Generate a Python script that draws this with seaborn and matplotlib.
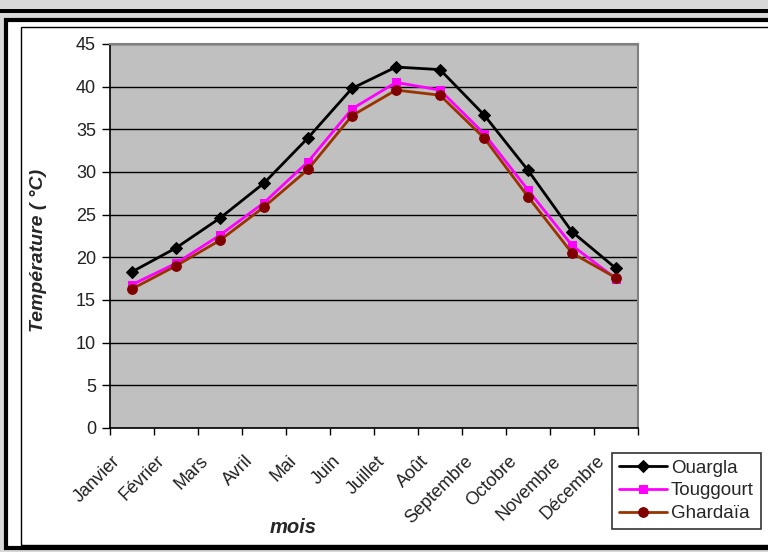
import matplotlib
matplotlib.use("Agg")
import matplotlib.pyplot as plt
import matplotlib.transforms as mtransforms
from matplotlib.patches import Rectangle
import numpy as np
import pandas as pd
import seaborn as sns

months = ["Janvier", "Février", "Mars", "Avril", "Mai", "Juin", "Juillet",
          "Août", "Septembre", "Octobre", "Novembre", "Décembre"]
ouargla = [18.3, 21.1, 24.6, 28.7, 34.0, 39.8, 42.3, 42.0, 36.7, 30.2, 23.0, 18.7]
touggourt = [16.8, 19.3, 22.6, 26.4, 31.2, 37.4, 40.5, 39.6, 34.5, 27.9, 21.4, 17.5]
ghardaia = [16.3, 19.0, 22.0, 25.9, 30.3, 36.6, 39.6, 39.0, 34.0, 27.1, 20.5, 17.6]

df = pd.DataFrame({"pos": np.arange(len(months)),
                   "Ouargla": ouargla, "Touggourt": touggourt, "Ghardaïa": ghardaia})

sns.set_style("white")
plt.rcParams["font.family"] = ["Liberation Sans", "DejaVu Sans"]

fig = plt.figure(figsize=(7.68, 5.52), dpi=100)
W, H = 768, 552

# outer window-like frame, kept behind the axes
fig.patch.set_facecolor("#d8d8d8")
fig.add_artist(Rectangle((0, 1 - 13 / H), 1, 4 / H, transform=fig.transFigure,
                         facecolor="black", edgecolor="none", zorder=-5))
fig.add_artist(Rectangle((6 / W, 4 / H), 1, 1 - 24 / H, transform=fig.transFigure,
                         facecolor="white", edgecolor="black", linewidth=3, zorder=-5))
fig.add_artist(Rectangle((21 / W, 7 / H), 1, 1 - 34 / H, transform=fig.transFigure,
                         facecolor="none", edgecolor="black", linewidth=1, zorder=-4))

ax = fig.add_axes([110 / W, 1 - 428 / H, 528 / W, 384 / H])
ax.set_facecolor("#c0c0c0")

series = [
    ("Ouargla", "black", "D", "black", 6),
    ("Touggourt", "#ff00ff", "s", "#ff00ff", 6),
    ("Ghardaïa", "#993300", "o", "#800000", 7),
]
for name, lc, mk, mc, ms in series:
    sns.lineplot(data=df, x="pos", y=name, ax=ax, color=lc, marker=mk,
                 markerfacecolor=mc, markeredgecolor=mc, markersize=ms,
                 linewidth=2, label=name)

ax.set_xlim(-0.5, 11.5)
ax.set_ylim(0, 45)
ax.set_yticks(range(0, 46, 5))
ax.yaxis.grid(True, color="black", linewidth=1)
ax.set_axisbelow(True)

ax.set_xticks(np.arange(len(months)))
ax.set_xticks(np.arange(-0.5, 12, 1), minor=True)
ax.tick_params(axis="x", which="major", length=0, pad=22)
ax.tick_params(axis="x", which="minor", length=5, width=1, color="black", direction="out", bottom=True)
ax.tick_params(axis="y", length=6, width=1, color="black", direction="out", left=True,
               labelsize=13, labelcolor="#222222", pad=4)
ax.set_xticklabels(months, rotation=45, ha="right", va="center",
                   rotation_mode="anchor", fontsize=13, color="#222222")
shift = mtransforms.ScaledTranslation(-14 / 100, 0, fig.dpi_scale_trans)
for lab in ax.get_xticklabels():
    lab.set_transform(lab.get_transform() + shift)

for s in ["left", "bottom"]:
    ax.spines[s].set_color("black")
    ax.spines[s].set_linewidth(1.2)
for s in ["top", "right"]:
    ax.spines[s].set_color("#808080")
    ax.spines[s].set_linewidth(1.5)

ax.set_ylabel("Température ( °C)", fontsize=14, fontweight="bold", fontstyle="italic")
ax.yaxis.set_label_coords((47 - 110) / 528, (428 - 250) / 384)
ax.set_xlabel("mois", fontsize=14.5, fontweight="bold", fontstyle="italic")
ax.xaxis.set_label_coords((293 - 110) / 528, -(518 - 428) / 384)

leg = ax.legend(loc="upper left", bbox_to_anchor=(612 / W, 1 - 453 / H),
                bbox_transform=fig.transFigure, frameon=True, fancybox=False,
                fontsize=13.5, handlelength=2.6, handletextpad=0.2, borderpad=0.35,
                labelspacing=0.3, borderaxespad=0)
leg.get_frame().set_edgecolor("black")
leg.get_frame().set_linewidth(1.2)

fig.savefig("out.png", dpi=100, facecolor=fig.get_facecolor())
